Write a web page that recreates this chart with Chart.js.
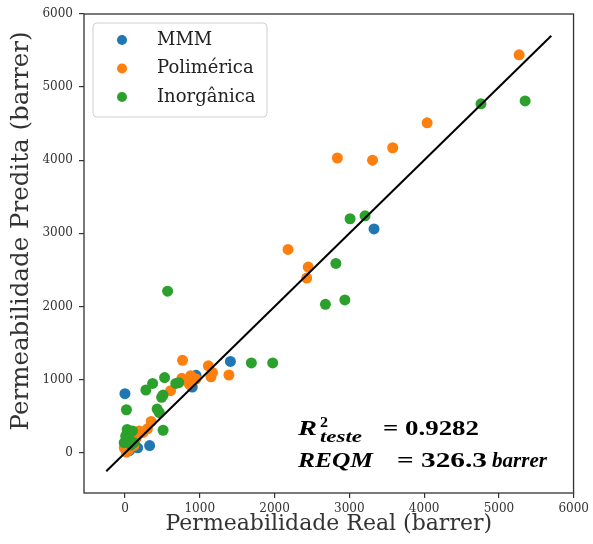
<!DOCTYPE html>
<html>
<head>
<meta charset="utf-8">
<script src="https://cdn.jsdelivr.net/npm/chart.js@4.4.0/dist/chart.umd.min.js"></script>
<style>
  html, body { margin: 0; padding: 0; background: #fff; }
  #wrap { width: 593px; height: 544px; }
</style>
</head>
<body>
<div id="wrap"><canvas id="grafico" width="593" height="544"></canvas></div>
<script>
// permeabilidade real x predita (barrer)
const mmmReal = [0, 3330, 1410, 950, 900, 330, 170, 60];
const mmmPred = [810, 3060, 1250, 1060, 900, 100, 70, 30];

const polReal = [5270, 4040, 2840, 3310, 3580, 2180, 2450, 2430, 770, 1115, 1150, 1390, 1170, 900, 860, 760, 610, 880, 950, 350, 300, 240, 190, 120, -10, 50, 20, 150, 80];
const polPred = [5440, 4510, 4030, 4000, 4170, 2780, 2540, 2390, 1265, 1190, 1040, 1065, 1100, 1030, 940, 1020, 850, 1055, 1010, 430, 330, 280, 300, 100, 70, 40, 10, 200, 250];

const inoReal = [5350, 4760, 3010, 3210, 2820, 2680, 2940, 1690, 1975, 570, 20, 280, 370, 530, 720, 680, 490, 510, 430, 460, 510, 30, 100, 10, 60, -10, 120, 40, 80];
const inoPred = [4810, 4770, 3200, 3240, 2590, 2030, 2090, 1230, 1230, 2210, 590, 860, 950, 1030, 960, 950, 760, 790, 600, 550, 310, 320, 300, 230, 190, 140, 140, 300, 110];

const linhaIdeal = [-250, 5700];
const eixoTicks = [0, 1000, 2000, 3000, 4000, 5000, 6000];
const eixoMin = -547.5;
const eixoMax = 5997.5;

const series = [
  { nome: 'MMM', cor: '#1f77b4', x: mmmReal, y: mmmPred },
  { nome: 'Polimérica', cor: '#ff7f0e', x: polReal, y: polPred },
  { nome: 'Inorgânica', cor: '#2ca02c', x: inoReal, y: inoPred }
];

const pares = (xs, ys) => xs.map((v, i) => ({ x: v, y: ys[i] }));
const FONTE = "'DejaVu Serif', serif";
const SERIF = "'Liberation Serif', serif";

// escreve um trecho esticado na horizontal até a largura pedida
function trecho(ctx, txt, font, x0, x1, base) {
  ctx.font = font;
  const w = ctx.measureText(txt).width;
  ctx.save();
  ctx.translate(x0, base);
  ctx.scale((x1 - x0) / w, 1);
  ctx.fillText(txt, 0, 0);
  ctx.restore();
}

// moldura, legenda, títulos dos eixos e métricas
const extras = {
  id: 'extras',
  afterDraw(chart) {
    const { ctx, chartArea: a } = chart;
    ctx.save();
    ctx.strokeStyle = '#333';
    ctx.lineWidth = 1.3;
    ctx.strokeRect(a.left, a.top, a.right - a.left, a.bottom - a.top);

    // títulos
    ctx.fillStyle = '#333';
    ctx.font = '22px ' + FONTE;
    ctx.textAlign = 'center';
    ctx.textBaseline = 'middle';
    ctx.fillText('Permeabilidade Real (barrer)', (a.left + a.right) / 2, 524);
    ctx.save();
    ctx.translate(22, 231);
    ctx.rotate(-Math.PI / 2);
    ctx.font = '24.5px ' + FONTE;
    ctx.fillText('Permeabilidade Predita (barrer)', 0, 0);
    ctx.restore();

    // legenda
    const lx = a.left + 9, ly = a.top + 9, lw = 174, lh = 94;
    ctx.beginPath();
    ctx.roundRect(lx, ly, lw, lh, 4);
    ctx.fillStyle = 'rgba(255,255,255,0.8)';
    ctx.fill();
    ctx.strokeStyle = '#d0d0d0';
    ctx.lineWidth = 1;
    ctx.stroke();
    ctx.textAlign = 'left';
    ctx.font = '18px ' + FONTE;
    series.forEach((s, i) => {
      const cy = ly + 17 + i * 28.5;
      ctx.beginPath();
      ctx.arc(lx + 29, cy, 5, 0, Math.PI * 2);
      ctx.fillStyle = s.cor;
      ctx.fill();
      ctx.fillStyle = '#222';
      ctx.fillText(s.nome, lx + 64, cy);
    });

    // métricas do teste
    ctx.fillStyle = '#000';
    ctx.textBaseline = 'alphabetic';
    const bi = 'bold italic 22px ' + SERIF;
    const b = 'bold 22px ' + SERIF;
    trecho(ctx, 'R', bi, 298, 317, 435);
    trecho(ctx, '2', 'bold 14px ' + SERIF, 320, 328, 427);
    trecho(ctx, 'teste', 'bold italic 16px ' + SERIF, 320, 362, 442);
    trecho(ctx, '= 0.9282', b, 383, 479, 435);
    trecho(ctx, 'REQM', bi, 298, 373, 467);
    trecho(ctx, '= 326.3', b, 397, 487, 467);
    trecho(ctx, 'barrer', bi, 492, 547, 467);
    ctx.restore();
  }
};

const eixo = (extra) => Object.assign({
  type: 'linear',
  min: eixoMin,
  max: eixoMax,
  afterBuildTicks: (scale) => { scale.ticks = eixoTicks.map(v => ({ value: v })); },
  border: { display: false },
  grid: { drawOnChartArea: false, drawTicks: true, tickLength: 5, tickColor: '#333', lineWidth: 1.2 }
}, extra);

const tickFont = { family: FONTE, size: 12 };

new Chart(document.getElementById('grafico'), {
  type: 'scatter',
  data: {
    datasets: [
      {
        type: 'line',
        data: pares(linhaIdeal, linhaIdeal),
        borderColor: '#000',
        borderWidth: 2,
        pointRadius: 0,
        order: 0
      },
      ...series.map((s, i) => ({
        label: s.nome,
        data: pares(s.x, s.y),
        backgroundColor: s.cor,
        borderWidth: 0,
        pointRadius: 5.5,
        order: 3 - i
      }))
    ]
  },
  options: {
    responsive: false,
    devicePixelRatio: 1,
    animation: false,
    layout: { padding: { top: 14, right: 17, left: 0, bottom: 0 } },
    plugins: { legend: { display: false }, tooltip: { enabled: false } },
    scales: {
      x: eixo({ ticks: { font: tickFont, color: '#333', padding: 4, maxRotation: 0, callback: v => String(v) },
                afterFit: (s) => { s.height = 51; } }),
      y: eixo({ ticks: { font: tickFont, color: '#333', padding: 6, callback: v => String(v) },
                afterFit: (s) => { s.width = 84; } })
    }
  },
  plugins: [extras]
});
</script>
</body>
</html>
